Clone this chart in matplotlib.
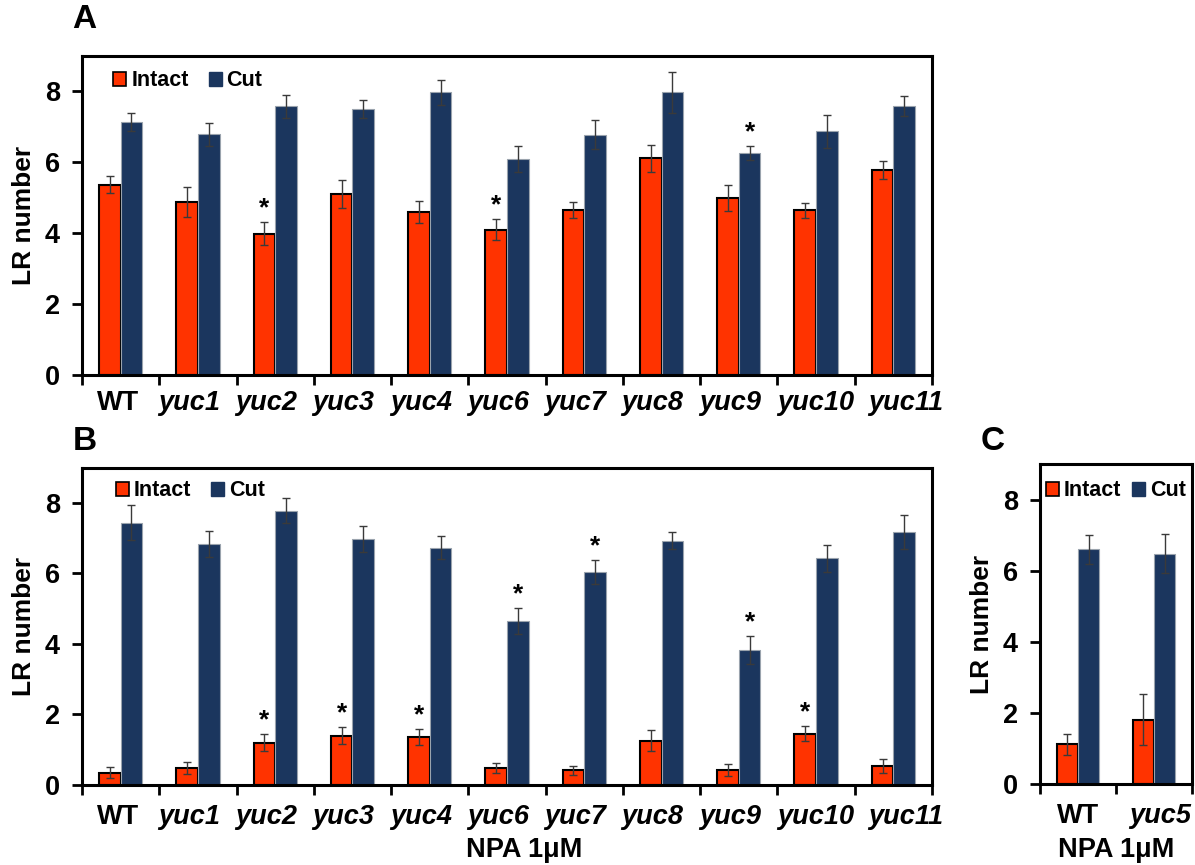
import numpy as np
import matplotlib
matplotlib.use("Agg")
import matplotlib.pyplot as plt
import matplotlib.transforms as mtransforms
from matplotlib.patches import Patch

plt.rcParams['font.family'] = ['Liberation Sans', 'DejaVu Sans']
plt.rcParams['font.weight'] = 'bold'

# ---- data ----
genotypes = ["WT", "yuc1", "yuc2", "yuc3", "yuc4", "yuc6",
             "yuc7", "yuc8", "yuc9", "yuc10", "yuc11"]

a_intact = [5.37, 4.88, 3.99, 5.10, 4.59, 4.10, 4.65, 6.12, 4.99, 4.65, 5.78]
a_intact_err = [0.23, 0.41, 0.32, 0.39, 0.31, 0.30, 0.23, 0.38, 0.37, 0.21, 0.25]
a_cut = [7.14, 6.79, 7.58, 7.50, 7.98, 6.10, 6.78, 7.98, 6.26, 6.87, 7.58]
a_cut_err = [0.25, 0.33, 0.32, 0.26, 0.35, 0.36, 0.40, 0.58, 0.19, 0.47, 0.28]
a_star_intact = ["yuc2", "yuc6"]
a_star_cut = ["yuc9"]

b_intact = [0.35, 0.49, 1.20, 1.40, 1.37, 0.49, 0.42, 1.26, 0.42, 1.46, 0.53]
b_intact_err = [0.15, 0.17, 0.25, 0.24, 0.23, 0.14, 0.13, 0.31, 0.17, 0.21, 0.20]
b_cut = [7.44, 6.83, 7.78, 6.98, 6.73, 4.64, 6.05, 6.93, 3.83, 6.43, 7.17]
b_cut_err = [0.49, 0.37, 0.35, 0.36, 0.33, 0.37, 0.34, 0.25, 0.40, 0.39, 0.48]
b_star_intact = ["yuc2", "yuc3", "yuc4", "yuc10"]
b_star_cut = ["yuc6", "yuc7", "yuc9"]

c_genotypes = ["WT", "yuc5"]
c_intact = [1.12, 1.82]
c_intact_err = [0.30, 0.71]
c_cut = [6.61, 6.49]
c_cut_err = [0.40, 0.56]

yticks = [0, 2, 4, 6, 8]

# small horizontal nudges (px) of the category labels, as in the original
label_nudge = [-3, -9, -9, -9, -9, -9, -9, -9, -9, 0, 12]
c_label_nudge = [0, 6]

intact_color = "#FF3300"
cut_color = "#1B365E"
err_color = "#3a3a3a"


def draw_panel(ax, labels, intact, intact_err, cut, cut_err,
               star_intact=(), star_cut=(), legend_at=(0.04, 0.95),
               legend_gap=0.93, nudges=None, label_drop=15):
    n = len(labels)
    x = np.arange(n)
    w = 0.28
    ax.bar(x - w / 2, intact, w, color=intact_color, edgecolor="black",
           linewidth=1.5, zorder=2)
    ax.bar(x + w / 2, cut, w, color=cut_color, edgecolor="#9aa3ad",
           linewidth=0.8, zorder=2)
    ax.errorbar(x - w / 2, intact, yerr=intact_err, fmt="none",
                ecolor=err_color, elinewidth=1, capsize=3, capthick=1, zorder=3)
    ax.errorbar(x + w / 2, cut, yerr=cut_err, fmt="none",
                ecolor=err_color, elinewidth=1, capsize=3, capthick=1, zorder=3)
    for i, lab in enumerate(labels):
        if lab in star_intact:
            ax.text(i - w / 2, intact[i] + intact_err[i] + 0.05, "*",
                    ha="center", va="bottom", fontsize=19, fontweight="bold")
        if lab in star_cut:
            ax.text(i + w / 2, cut[i] + cut_err[i] + 0.05, "*",
                    ha="center", va="bottom", fontsize=19, fontweight="bold")

    ax.set_xlim(-0.5, n - 0.5)
    ax.set_ylim(0, 9)
    ax.set_yticks(yticks)
    ax.tick_params(axis="y", direction="out", length=7, width=2,
                   labelsize=19.5, pad=9)

    # category labels drawn as text so each can be nudged like the original
    ax.set_xticks(np.arange(-0.5, n, 1))
    ax.set_xticklabels([])
    ax.tick_params(axis="x", direction="out", length=7, width=2)
    if nudges is None:
        nudges = [0] * n
    for i, lab in enumerate(labels):
        off = mtransforms.ScaledTranslation(nudges[i] / 100, -label_drop / 100,
                                            ax.figure.dpi_scale_trans)
        ax.text(i, 0, lab, transform=ax.get_xaxis_transform() + off,
                ha="center", va="top", fontsize=19.5, fontweight="bold",
                fontstyle="normal" if lab == "WT" else "italic")

    for s in ax.spines.values():
        s.set_linewidth(2.2)
    ax.set_ylabel("LR number", fontsize=19, fontweight="bold", labelpad=6)

    handles = [Patch(facecolor=intact_color, edgecolor="black", linewidth=1.2),
               Patch(facecolor=cut_color, edgecolor=cut_color)]
    ax.legend(handles, ["Intact", "Cut"], ncol=2, loc="upper left",
              bbox_to_anchor=legend_at, frameon=False,
              prop={"size": 15.5, "weight": "bold"},
              handlelength=0.6, handleheight=0.6, handletextpad=0.23,
              columnspacing=legend_gap, borderaxespad=0, borderpad=0)


fig = plt.figure(figsize=(11.95, 8.65), dpi=100, facecolor="white")

ax_a = fig.add_axes([0.0686, 0.5665, 0.7113, 0.3688])
draw_panel(ax_a, genotypes, a_intact, a_intact_err, a_cut, a_cut_err,
           a_star_intact, a_star_cut, legend_at=(0.037, 0.955),
           nudges=label_nudge, label_drop=15)

ax_b = fig.add_axes([0.0686, 0.0925, 0.7113, 0.3668])
draw_panel(ax_b, genotypes, b_intact, b_intact_err, b_cut, b_cut_err,
           b_star_intact, b_star_cut, legend_at=(0.04, 0.96),
           nudges=label_nudge, label_drop=19)
ax_b.text(0.52, -0.165, "NPA 1\u03bcM", transform=ax_b.transAxes,
          ha="center", va="top", fontsize=19.5, fontweight="bold")

ax_c = fig.add_axes([0.8703, 0.0933, 0.1272, 0.3699])
draw_panel(ax_c, c_genotypes, c_intact, c_intact_err, c_cut, c_cut_err,
           legend_at=(0.04, 0.95), legend_gap=0.5, nudges=c_label_nudge,
           label_drop=19)
ax_c.text(0.5, -0.165, "NPA 1\u03bcM", transform=ax_c.transAxes,
          ha="center", va="top", fontsize=19.5, fontweight="bold")

fig.text(0.060, 0.977, "A", fontsize=24, fontweight="bold", va="center")
fig.text(0.061, 0.490, "B", fontsize=24, fontweight="bold", va="center")
fig.text(0.821, 0.490, "C", fontsize=24, fontweight="bold", va="center")

fig.savefig("out.png", dpi=100, facecolor="white")
